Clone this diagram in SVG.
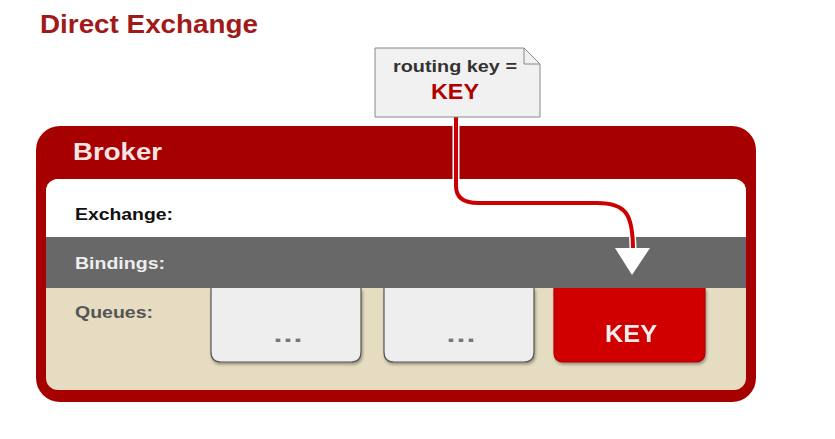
<svg xmlns="http://www.w3.org/2000/svg" width="835" height="439" viewBox="0 0 835 439">
<defs>
<filter id="sh" x="-10%" y="-10%" width="130%" height="140%"><feDropShadow dx="1" dy="2" stdDeviation="1.5" flood-color="#000" flood-opacity="0.35"/></filter>
<clipPath id="inner"><rect x="46" y="179" width="700" height="211" rx="12"/></clipPath>
</defs>
<style>
text{font-family:"Liberation Sans",Arial,sans-serif;font-weight:bold}
.lbl{font-size:16px}
.q{fill:#eeeeee;stroke:#555;stroke-width:1.2}
.dots{font-family:"DejaVu Sans",sans-serif;font-size:18px;fill:#777;text-anchor:middle}
</style>
<rect width="835" height="439" fill="#fff"/>
<text x="40" y="33" font-size="25" fill="#a11a1a" textLength="218" lengthAdjust="spacingAndGlyphs">Direct Exchange</text>
<g id="broker">
<rect x="36" y="126" width="720" height="276" rx="24" fill="#a60000"/>
<text x="73" y="160" font-size="24" fill="#f7e4e4" textLength="89" lengthAdjust="spacingAndGlyphs">Broker</text>
<g clip-path="url(#inner)">
<rect x="46" y="179" width="700" height="211" fill="#e5dcc1"/>
<rect x="46" y="179" width="700" height="58" fill="#ffffff"/>
<rect x="46" y="237" width="700" height="51" fill="#686868"/>
</g>
</g>
<g id="exchange"><text class="lbl" x="75" y="220" fill="#111" textLength="98" lengthAdjust="spacingAndGlyphs">Exchange:</text></g>
<g id="bindings"><text class="lbl" x="75" y="269" fill="#eeeeee" textLength="90" lengthAdjust="spacingAndGlyphs">Bindings:</text></g>
<g id="queues"><text class="lbl" x="75" y="318" fill="#555" textLength="78" lengthAdjust="spacingAndGlyphs">Queues:</text></g>
<g id="queue1" filter="url(#sh)">
<path class="q" d="M211,288 V352 Q211,362 221,362 H351 Q361,362 361,352 V288"/>
<text class="dots" x="288" y="342" textLength="30" lengthAdjust="spacingAndGlyphs">...</text>
</g>
<g id="queue2" filter="url(#sh)">
<path class="q" d="M384,288 V352 Q384,362 394,362 H524 Q534,362 534,352 V288"/>
<text class="dots" x="461" y="342" textLength="30" lengthAdjust="spacingAndGlyphs">...</text>
</g>
<g id="queue3" filter="url(#sh)">
<path d="M554,288 V352 Q554,362 564,362 H695 Q705,362 705,352 V288" fill="#d10000" stroke="#b00000" stroke-width="1.2"/>
<text x="631" y="342" font-size="23" fill="#f7ecec" text-anchor="middle" textLength="52" lengthAdjust="spacingAndGlyphs">KEY</text>
</g>
<g id="connectors">
<path d="M456,117 V186 Q456,203 478,203 H597 C626,203 633,214 633,250" fill="none" stroke="#ffffff" stroke-width="7"/>
<path d="M456,117 V186 Q456,203 478,203 H597 C626,203 633,214 633,250" fill="none" stroke="#cc0000" stroke-width="4"/>
<polygon points="615,248 650,248 632,275" fill="#ffffff"/>
</g>
<g id="note">
<path d="M375,48 H524 L540,64 V117 H375 Z" fill="#f1f1f1" stroke="#888" stroke-width="1"/>
<path d="M524,48 V64 H540" fill="none" stroke="#888" stroke-width="1"/>
<text x="455" y="72" font-size="16" fill="#333" text-anchor="middle" textLength="124" lengthAdjust="spacingAndGlyphs">routing key =</text>
<text x="455" y="99" font-size="22" fill="#b00000" text-anchor="middle" textLength="48" lengthAdjust="spacingAndGlyphs">KEY</text>
</g>
</svg>
